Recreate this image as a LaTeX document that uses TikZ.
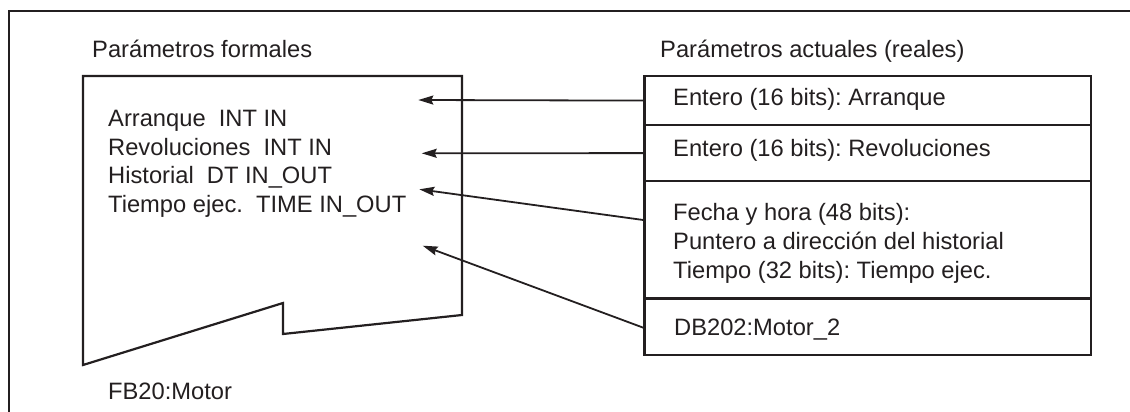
\documentclass[tikz,border=0pt]{standalone}
\usepackage{fontspec}
\setmainfont{Liberation Sans}
\usetikzlibrary{arrows.meta}
\definecolor{ink}{HTML}{231F20}
\frenchspacing
\tikzset{
  boxline/.style={draw=ink, line width=2.2pt},
  frameline/.style={draw=ink, line width=1.9pt},
  conn/.style={draw=ink, line width=1.8pt, -{Stealth[length=15pt,width=9pt,inset=2pt]}},
  lbl/.style={anchor=base west, inner sep=0pt, text=ink, font=\fontsize{23.7}{28.5}\selectfont},
  cell/.style={boxline, rectangle, inner sep=0pt, anchor=north west, minimum width=446.7pt}
}
\begin{document}
\begin{tikzpicture}[x=1pt,y=-1pt]
\useasboundingbox (0,0) rectangle (1130,412);
% outer frame (top and left only)
\coordinate (fTR) at (1130,10.7);
\coordinate (fTL) at (9,10.7);
\coordinate (fBL) at (9,412);
\draw[frameline] (fTR) -- (fTL) -- (fBL);

% titles
\node[lbl] (tform) at (92,57.3) {Parámetros formales};
\node[lbl] (tact) at (660,57.5) {Parámetros actuales (reales)};

% formal parameter block shape
\coordinate (s1) at (83,76);
\coordinate (s2) at (462,76);
\coordinate (s3) at (462,315);
\coordinate (s4) at (283,334);
\coordinate (s5) at (283,303);
\coordinate (s6) at (83,365);
\draw[boxline, line join=miter] (s1) -- (s2) -- (s3) -- (s4) -- (s5) -- (s6) -- cycle;

\node[lbl] (l1) at (108,126.7) {Arranque\ \ INT IN};
\node[lbl] (l2) at (108,155.2) {Revoluciones\ \ INT IN};
\node[lbl] (l3) at (108,183.7) {Historial\ \ DT IN\_OUT};
\node[lbl] (l4) at (108,212.2) {Tiempo ejec.\ \ TIME IN\_OUT};
\node[lbl] (fb) at (108,399) {FB20:Motor};

% actual parameter cells
\node[cell, minimum height=49pt] (r1) at (643.3,75) {};
\node[cell, minimum height=56pt] (r2) at (643.3,124) {};
\node[cell, minimum height=117.3pt] (r3) at (643.3,180) {};
\node[cell, minimum height=56.7pt] (r4) at (643.3,297.3) {};

\node[lbl] (a1) at (673,105) {Entero (16 bits): Arranque};
\node[lbl] (a2) at (673,156.7) {Entero (16 bits): Revoluciones};
\node[lbl] (a3) at (673,220.7) {Fecha y hora (48 bits):};
\node[lbl] (a4) at (673,249.5) {Puntero a dirección del historial};
\node[lbl] (a5) at (673,278.3) {Tiempo (32 bits): Tiempo ejec.};
\node[lbl] (a6) at (674,335) {DB202:Motor\_2};

% arrow targets inside the formal block
\coordinate (t1) at (418.3,100);
\coordinate (t2) at (421.7,153.3);
\coordinate (t3) at (419.3,189.3);
\coordinate (t4) at (422.7,245.7);
\coordinate (o3) at (643.3,220);
\coordinate (o4) at (643.3,327.7);

\draw[conn] (r1.west) -- (t1);
\draw[conn] (r2.west) -- (t2);
\draw[conn] (o3) -- (t3);
\draw[conn] (o4) -- (t4);
\end{tikzpicture}
\end{document}
